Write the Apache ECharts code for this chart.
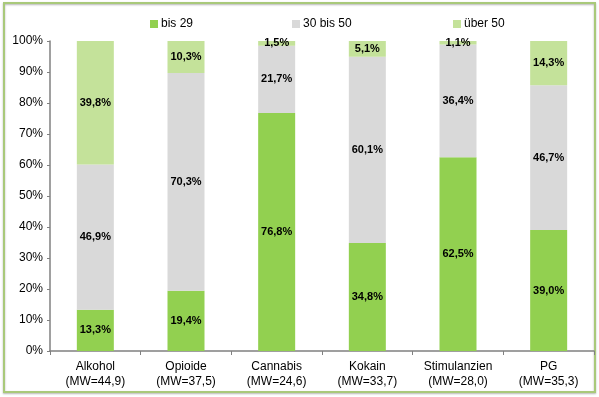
<!DOCTYPE html>
<html>
<head>
<meta charset="utf-8">
<script src="https://cdn.jsdelivr.net/npm/echarts@6/dist/echarts.min.js"></script>
<style>
  html, body { margin: 0; padding: 0; background: #fff; }
  #chart { width: 599px; height: 397px; }
</style>
</head>
<body>
<div id="chart"></div>
<script>
const categories = ['Alkohol\n(MW=44,9)', 'Opioide\n(MW=37,5)', 'Cannabis\n(MW=24,6)', 'Kokain\n(MW=33,7)', 'Stimulanzien\n(MW=28,0)', 'PG\n(MW=35,3)']
const bis29 = [13.3, 19.4, 76.8, 34.8, 62.5, 39.0]
const bis50 = [46.9, 70.3, 21.7, 60.1, 36.4, 46.7]
const ueber50 = [39.8, 10.3, 1.5, 5.1, 1.1, 14.3]
const yTicks = [0, 10, 20, 30, 40, 50, 60, 70, 80, 90, 100]

const font = '"Liberation Sans", Arial, sans-serif'
const colors = ['#92d050', '#d9d9d9', '#c4e29a']
const names = ['bis 29', '30 bis 50', 'über 50']

const c = echarts.init(document.getElementById('chart'))

const lbl = {
  show: true, position: 'inside', color: '#000', fontWeight: 'bold',
  fontSize: 11, fontFamily: font,
  formatter: p => p.value.toFixed(1).replace('.', ',') + '%'
}

const mkLegend = (name, left) => ({
  data: [name], left: left, top: 13, itemWidth: 8, itemHeight: 8, itemGap: 0,
  icon: 'rect', textStyle: { fontSize: 12, fontFamily: font, color: '#000', padding: [0, 0, 0, -2] },
  selectedMode: false
})

c.setOption({
  animation: false,
  graphic: [{
    type: 'rect', shape: { x: 4, y: 3, width: 591, height: 389 },
    style: { fill: 'none', stroke: '#a9c97a', lineWidth: 2, shadowColor: 'rgba(0,0,0,0.3)', shadowOffsetY: 1, shadowBlur: 2 }
  }],
  legend: [mkLegend(names[0], 145), mkLegend(names[1], 287), mkLegend(names[2], 448)],
  grid: { left: 50, right: 5, top: 41, bottom: 46 },
  xAxis: {
    type: 'category', data: categories,
    axisLine: { lineStyle: { color: '#808080', width: 1.5 } },
    axisTick: { show: true, length: 4, lineStyle: { color: '#808080' } },
    axisLabel: { color: '#000', fontSize: 12, fontFamily: font, lineHeight: 15, margin: 8 }
  },
  yAxis: {
    type: 'value', min: 0, max: 100, interval: 10,
    axisLine: { show: true, lineStyle: { color: '#808080', width: 1.5 } },
    axisTick: { show: true, length: 3, lineStyle: { color: '#808080' } },
    splitLine: { show: false },
    axisLabel: {
      color: '#000', fontSize: 12, fontFamily: font, margin: 7,
      formatter: v => yTicks.includes(v) ? v + '%' : ''
    }
  },
  series: [bis29, bis50, ueber50].map((d, i) => ({
    name: names[i], type: 'bar', stack: 'total', data: d, barWidth: 37,
    itemStyle: { color: colors[i] }, label: lbl
  }))
})
</script>
</body>
</html>
